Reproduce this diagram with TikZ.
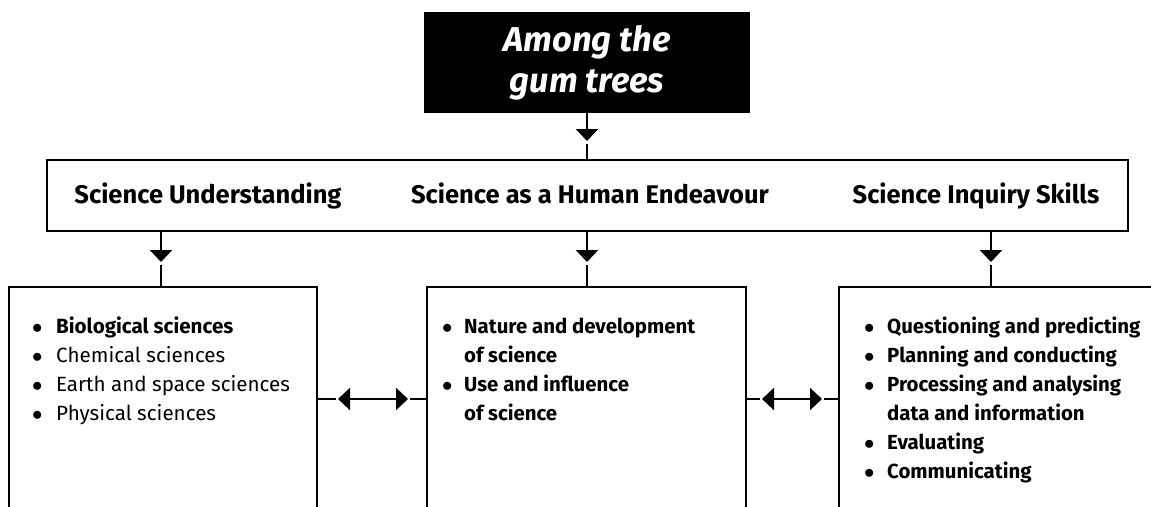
\documentclass[tikz,border=0pt]{standalone}
\usepackage{fontspec}
\setmainfont{Fira Sans}
\usetikzlibrary{arrows.meta,calc}
\newcommand{\blt}{$\bullet$}
\begin{document}
\begin{tikzpicture}[x=1pt,y=-1pt,
  box/.style={draw, line width=2.6pt, inner sep=0pt, outer sep=0pt, anchor=north west},
  conn/.style={line width=2.5pt},
  tri/.style={-{Triangle[width=22pt,length=12pt]}},
  dtri/.style={{Triangle[width=22pt,length=12pt]}-{Triangle[width=22pt,length=12pt]}},
  head/.style={anchor=base, inner sep=0pt, font=\bfseries\fontsize{25.5}{30}\selectfont},
  list/.style={anchor=base west, inner sep=0pt, font=\fontsize{20.6}{29}\selectfont},
  blist/.style={list, font=\bfseries\fontsize{20.4}{29}\selectfont}
]
\clip (0,0) rectangle (1151,506);
\fill[white] (0,0) rectangle (1151,506);

% title
\node[fill=black, inner sep=0pt, outer sep=0pt, minimum width=326pt, minimum height=101pt,
      anchor=north west, text=white, align=center,
      font=\bfseries\itshape\fontsize{34.5}{41}\selectfont] (title) at (424,12) {Among the\\gum trees};

% banner
\node[box, minimum width=1081pt, minimum height=71pt] (banner) at (47,160) {};
\node[head] (h1) at (208,203) {Science Understanding};
\node[head] (h2) at (590,203) {Science as a Human Endeavour};
\node[head] (h3) at (976,203) {Science Inquiry Skills};

% bottom boxes (open at the bottom, cut by the frame)
\node[box, minimum width=308pt, minimum height=224pt] (b1) at (9,287) {};
\node[box, minimum width=319pt, minimum height=224pt] (b2) at (427,287) {};
\node[box, minimum width=360pt, minimum height=224pt] (b3) at (839,287) {};

\coordinate (k1) at (161,0);
\coordinate (k2) at (587,0);
\coordinate (k3) at (991,0);

% title -> banner
\draw[conn, tri] (title.south) -- ++(0,28);
\draw[conn] ($(banner.north -| title.south)+(0,-16)$) -- (banner.north -| title.south);

% banner -> boxes
\foreach \k/\b in {k1/b1,k2/b2,k3/b3}{
  \draw[conn, tri] (banner.south -| \k) -- ++(0,31);
  \draw[conn] ($(\b.north -| \k)+(0,-22)$) -- (\b.north -| \k);
}

% horizontal double arrows
\draw[conn] (b1.east) -- ++(19,0);
\draw[conn, dtri] ($(b1.east)+(21,0)$) -- ($(b2.west)+(-19,0)$);
\draw[conn] (b2.west) -- ++(-17,0);

\draw[conn] (b2.east) -- ++(14,0);
\draw[conn, dtri] ($(b2.east)+(16,0)$) -- ($(b3.west)+(-17,0)$);
\draw[conn] (b3.west) -- ++(-15,0);

% lists
\node[list] (l1) at (32,333) {\begin{tabular}[t]{@{}p{24pt}@{}l@{}}
\blt & \textbf{Biological sciences}\\
\blt & Chemical sciences\\
\blt & Earth and space sciences\\
\blt & Physical sciences
\end{tabular}};

\node[blist] (l2) at (442,333) {\begin{tabular}[t]{@{}p{22pt}@{}l@{}}
\blt & Nature and development\\
 & of science\\
\blt & Use and influence\\
 & of science
\end{tabular}};

\node[blist] (l3) at (864,333) {\begin{tabular}[t]{@{}p{23pt}@{}l@{}}
\blt & Questioning and predicting\\
\blt & Planning and conducting\\
\blt & Processing and analysing\\
 & data and information\\
\blt & Evaluating\\
\blt & Communicating
\end{tabular}};
\end{tikzpicture}
\end{document}
